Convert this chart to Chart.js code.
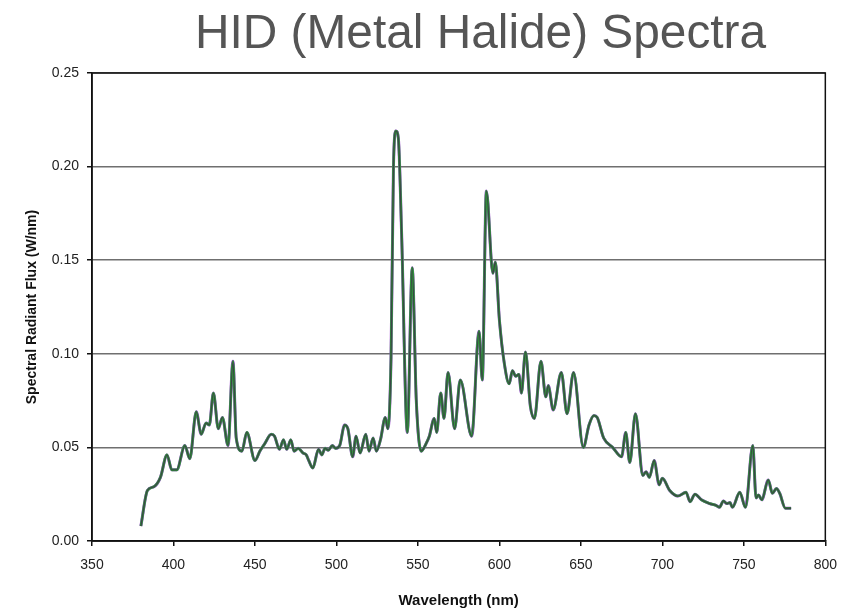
<!DOCTYPE html>
<html>
<head>
<meta charset="utf-8">
<script src="https://cdn.jsdelivr.net/npm/chart.js@4.4.1/dist/chart.umd.min.js"></script>
<style>
  body { margin: 0; background: #fff; }
  #wrap { position: relative; width: 848px; height: 610px; }
  #title {
    position: absolute; left: 195px; top: 8px;
    font: 47.8px/47px "Liberation Sans", Arial, sans-serif;
    color: #555; white-space: nowrap;
  }
</style>
</head>
<body>
<div id="wrap">
  <canvas id="chartCanvas" width="848" height="610"></canvas>
  <div id="title">HID (Metal Halide) Spectra</div>
</div>
<script>
// wavelength (nm) and spectral radiant flux (W/nm)
const wavelengths = [
  380, 384, 388, 392, 396, 399, 402, 407, 410, 414, 417, 420, 422, 424.5, 427.5, 430,
  433.5, 436.5, 438.5, 442, 445, 450, 453, 456, 460, 462, 465, 467.5, 469.5, 472, 474,
  476.5, 479.5, 481.5, 483, 485.5, 489, 491, 493, 495, 497.5, 499.5, 502, 505, 507, 510,
  512, 514.5, 518, 520, 522.5, 524.5, 527, 530, 531.5, 533.5, 535, 536.5, 538, 540,
  543.5, 546.5, 549, 552, 555, 557, 560, 561.5, 564, 566, 568.5, 572.5, 576, 583,
  587.5, 589.5, 592, 596, 597.5, 600, 603, 606, 608, 610, 612, 613.5, 616, 619, 621.5,
  625.5, 628.5, 630, 633, 638, 641.5, 645.5, 651.5, 655, 658, 660, 664, 669.5, 675,
  677.5, 680, 683.5, 688, 690, 692, 695, 698, 700, 704.5, 709.5, 714.5, 717, 720, 724,
  729, 733, 735, 737.5, 739.5, 741.5, 743, 747.5, 751, 755.5, 757.5, 759, 761, 765,
  767.5, 770, 772, 775.5, 779
];
const flux = [
  0.008, 0.027, 0.029, 0.034, 0.046, 0.038, 0.038, 0.051, 0.044, 0.069, 0.057, 0.063, 0.062, 0.079, 0.060, 0.066,
  0.051, 0.096, 0.055, 0.048, 0.058, 0.043, 0.048, 0.052, 0.057, 0.056, 0.049, 0.054, 0.049, 0.054, 0.048,
  0.0495, 0.047, 0.046, 0.043, 0.039, 0.049, 0.046, 0.0495, 0.0485, 0.051, 0.0495, 0.051, 0.062, 0.060, 0.045,
  0.056, 0.047, 0.057, 0.048, 0.055, 0.048, 0.054, 0.066, 0.060, 0.098, 0.200, 0.219, 0.215, 0.164,
  0.058, 0.146, 0.075, 0.048, 0.052, 0.056, 0.0655, 0.058, 0.079, 0.0655, 0.090, 0.060, 0.086, 0.056,
  0.112, 0.086, 0.187, 0.143, 0.149, 0.118, 0.095, 0.084, 0.091, 0.088, 0.089, 0.079, 0.101, 0.072, 0.0655,
  0.096, 0.077, 0.083, 0.070, 0.090, 0.068, 0.090, 0.050, 0.062, 0.067, 0.066, 0.055, 0.050, 0.045,
  0.058, 0.042, 0.068, 0.035, 0.037, 0.034, 0.043, 0.030, 0.0335, 0.027, 0.024, 0.026, 0.021, 0.025, 0.022,
  0.020, 0.019, 0.018, 0.0214, 0.020, 0.0205, 0.018, 0.026, 0.018, 0.051, 0.023, 0.0246, 0.022, 0.0326,
  0.0255, 0.028, 0.0255, 0.0175, 0.0175
];
const xTicks = [350, 400, 450, 500, 550, 600, 650, 700, 750, 800];
const yTicks = [0, 0.05, 0.10, 0.15, 0.20, 0.25];

const points = wavelengths.map((w, i) => ({ x: w, y: flux[i] }));

// black frame around the plot area
const frame = {
  id: 'frame',
  afterDraw(chart) {
    const a = chart.chartArea, ctx = chart.ctx;
    ctx.save();
    ctx.strokeStyle = '#111';
    ctx.lineWidth = 1.5;
    ctx.strokeRect(a.left, a.top, a.right - a.left, a.bottom - a.top);
    ctx.restore();
  }
};

// lower order is drawn on top
function lineSet(color, width, order) {
  return {
    data: points.map(p => ({ ...p })),
    borderColor: color,
    borderWidth: width,
    order: order,
    pointRadius: 0,
    fill: false,
    cubicInterpolationMode: 'monotone'
  };
}

new Chart(document.getElementById('chartCanvas'), {
  type: 'line',
  data: {
    datasets: [
      lineSet('#9a3fd0', 3.0, 3),
      lineSet('#2f9a3a', 2.6, 2),
      lineSet('#3b4646', 1.3, 1)
    ]
  },
  options: {
    responsive: false,
    animation: false,
    layout: { padding: { left: 0, right: 22, top: 73, bottom: 0 } },
    plugins: { legend: { display: false }, tooltip: { enabled: false } },
    scales: {
      x: {
        type: 'linear',
        min: 350, max: 800,
        afterBuildTicks: s => { s.ticks = xTicks.map(v => ({ value: v })); },
        afterFit: s => { s.height = 69; },
        grid: { drawOnChartArea: false, drawTicks: true, tickLength: 5, tickColor: '#111', lineWidth: 1.5 },
        border: { color: '#111', width: 1.5 },
        ticks: {
          padding: 11, color: '#222',
          font: { family: 'Liberation Sans', size: 14 },
          callback: v => String(v)
        },
        title: {
          display: true, text: 'Wavelength (nm)', color: '#111',
          font: { family: 'Liberation Sans', size: 15, weight: 'bold' },
          padding: { top: 11, bottom: 0 }
        }
      },
      y: {
        min: 0, max: 0.25,
        afterBuildTicks: s => { s.ticks = yTicks.map(v => ({ value: v })); },
        afterFit: s => { s.width = 92; },
        grid: { color: '#6f6f6f', lineWidth: 1.5, drawTicks: true, tickLength: 5, tickColor: '#111' },
        border: { color: '#111', width: 1.5 },
        ticks: {
          padding: 8, color: '#222',
          font: { family: 'Liberation Sans', size: 14 },
          callback: v => v.toFixed(2)
        },
        title: {
          display: true, text: 'Spectral Radiant Flux (W/nm)', color: '#111',
          font: { family: 'Liberation Sans', size: 14, weight: 'bold' },
          padding: { top: 24, bottom: 0 }
        }
      }
    }
  },
  plugins: [frame]
});
</script>
</body>
</html>
